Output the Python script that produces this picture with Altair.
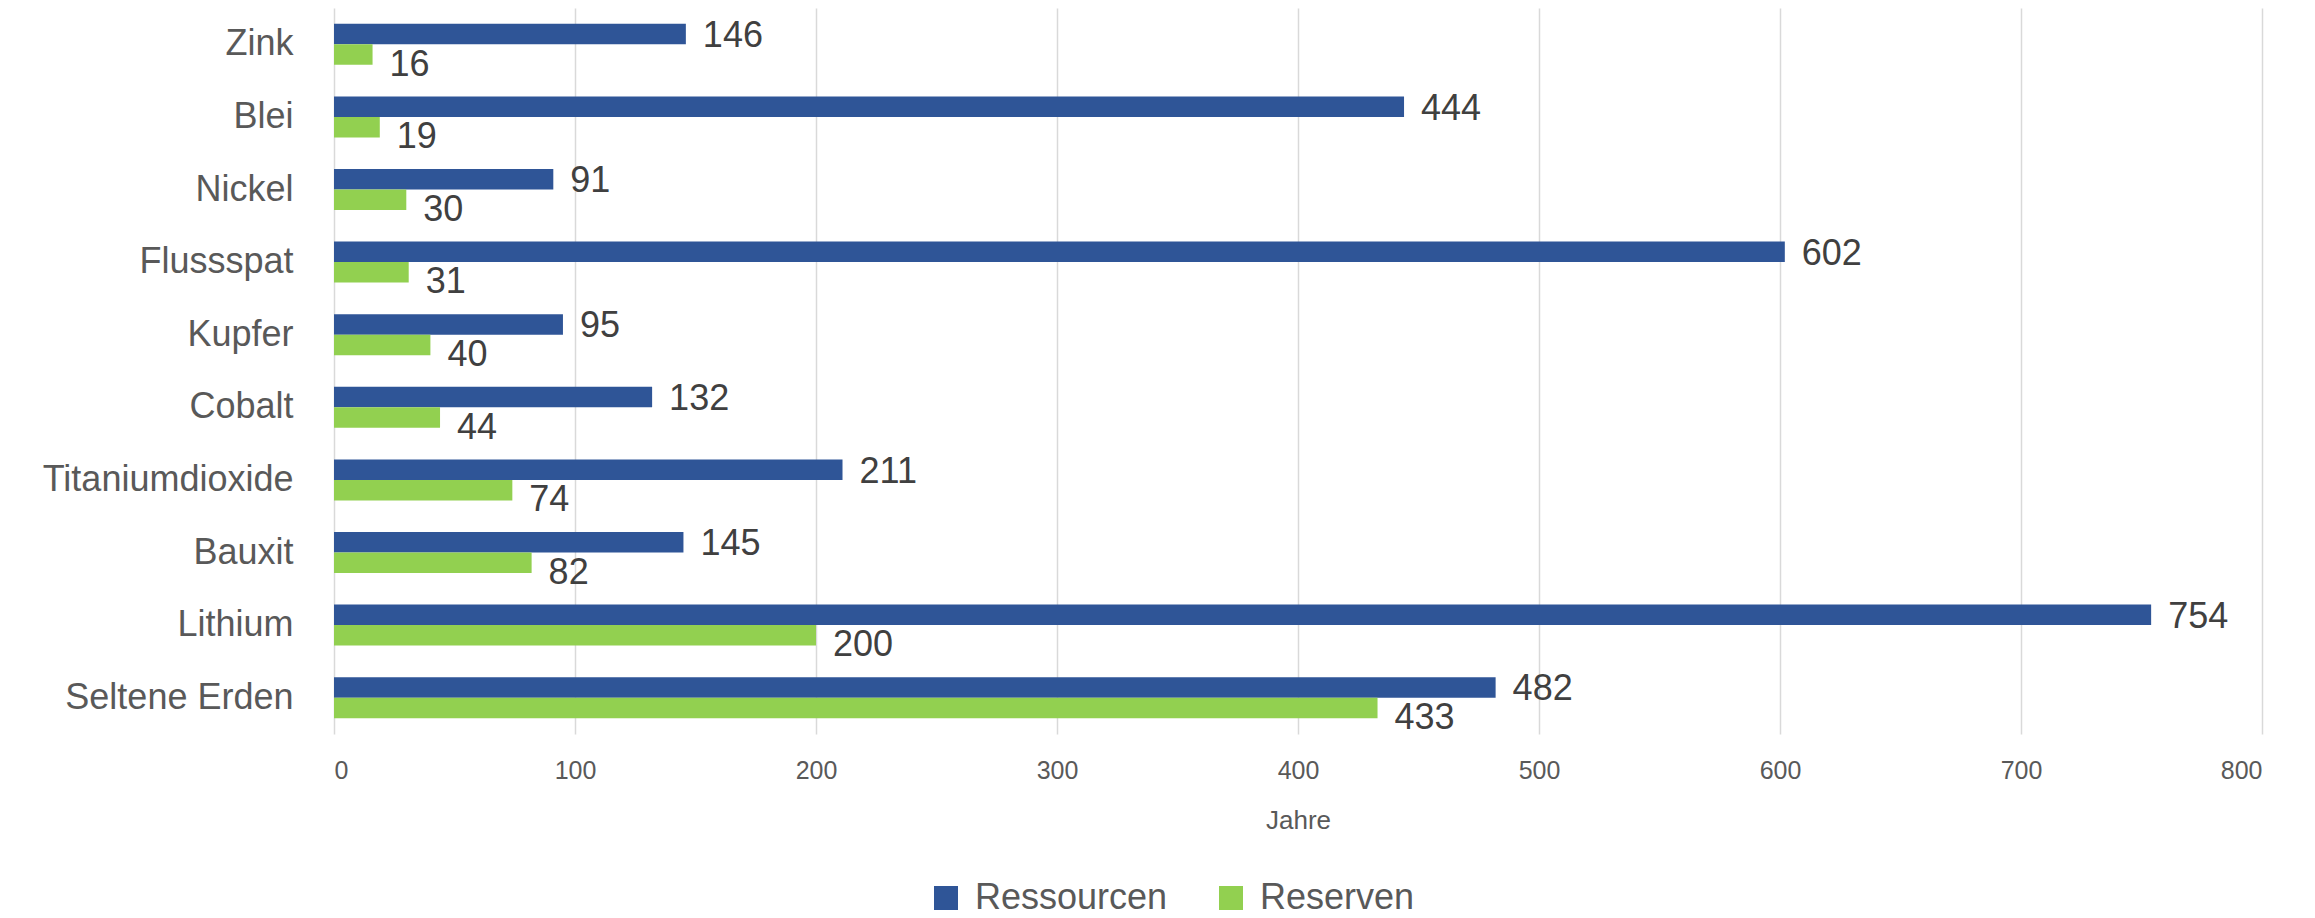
import altair as alt
import pandas as pd

categories = ["Zink", "Blei", "Nickel", "Flussspat", "Kupfer", "Cobalt",
              "Titaniumdioxide", "Bauxit", "Lithium", "Seltene Erden"]
ressourcen = [146, 444, 91, 602, 95, 132, 211, 145, 754, 482]
reserven = [16, 19, 30, 31, 40, 44, 74, 82, 200, 433]
series_names = ["Ressourcen", "Reserven"]
colors = ["#2F5597", "#92D050"]
x_ticks = [0, 100, 200, 300, 400, 500, 600, 700, 800]

rows = []
for c, r1, r2 in zip(categories, ressourcen, reserven):
    rows.append({"Rohstoff": c, "Reihe": "Ressourcen", "Jahre": r1})
    rows.append({"Rohstoff": c, "Reihe": "Reserven", "Jahre": r2})
df = pd.DataFrame(rows)

FONT = "Liberation Sans"

y = alt.Y("Rohstoff:N", sort=categories,
          scale=alt.Scale(paddingInner=0.435, paddingOuter=0.2175),
          axis=alt.Axis(title=None, labelFontSize=36, labelColor="#595959",
                        labelPadding=41, ticks=False, domain=False, grid=False,
                        labelFont=FONT, labelLimit=0))
x = alt.X("Jahre:Q", scale=alt.Scale(domain=[0, 800], nice=False),
          axis=alt.Axis(values=x_ticks, title="Jahre", titleFontSize=26,
                        titleFontWeight="normal", titleColor="#595959",
                        labelFontSize=25, labelColor="#595959", labelPadding=24,
                        ticks=False, domain=False, gridColor="#D9D9D9",
                        gridWidth=1.5, titlePadding=24, labelFont=FONT,
                        titleFont=FONT))
yoff = alt.YOffset("Reihe:N", sort=series_names,
                   scale=alt.Scale(domain=series_names, paddingInner=0, paddingOuter=0))
color = alt.Color("Reihe:N", sort=series_names,
                  scale=alt.Scale(domain=series_names, range=colors),
                  legend=alt.Legend(title=None, orient="none", legendX=594, legendY=872,
                                    direction="horizontal", symbolType="square",
                                    symbolSize=576, symbolStrokeWidth=0,
                                    labelFontSize=36, labelColor="#595959",
                                    labelFont=FONT, columnPadding=45, labelOffset=11,
                                    labelLimit=0))

base = alt.Chart(df)
bars = base.mark_bar().encode(y=y, x=x, yOffset=yoff, color=color)

txt1 = base.transform_filter(alt.datum.Reihe == "Ressourcen").mark_text(
    align="left", baseline="middle", dx=17, dy=2, fontSize=36, color="#404040", font=FONT
).encode(y=y, x=x, yOffset=yoff, text="Jahre:Q")
txt2 = base.transform_filter(alt.datum.Reihe == "Reserven").mark_text(
    align="left", baseline="middle", dx=17, dy=10, fontSize=36, color="#404040", font=FONT
).encode(y=y, x=x, yOffset=yoff, text="Jahre:Q")

chart = alt.layer(bars, txt1, txt2).properties(
    width=1928, height=726,
    autosize=alt.AutoSizeParams(type="none"),
    padding={"left": 326, "top": 0, "right": 40, "bottom": 184},
).configure_view(stroke=None)

chart.save("out.html", embed_options={"renderer": "svg", "actions": False})
